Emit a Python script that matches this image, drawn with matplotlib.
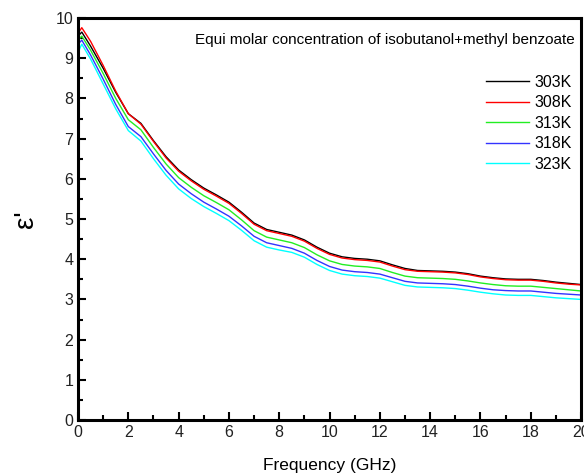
import matplotlib
matplotlib.use("Agg")
import matplotlib.pyplot as plt
from matplotlib.ticker import MultipleLocator

plt.rcParams['font.family'] = ['Liberation Sans', 'DejaVu Sans']

freq = [0, 0.15, 0.5, 1, 1.5, 2, 2.5, 3, 3.5, 4, 4.5, 5, 5.5, 6, 6.5, 7, 7.5, 8,
        8.5, 9, 9.5, 10, 10.5, 11, 11.5, 12, 12.5, 13, 13.5, 14, 14.5, 15,
        15.5, 16, 16.5, 17, 17.5, 18, 18.5, 19, 19.5, 20]

eps_303 = [9.55, 9.65, 9.30, 8.75, 8.15, 7.62, 7.38, 6.95, 6.55, 6.22, 5.98, 5.77,
           5.60, 5.42, 5.17, 4.90, 4.74, 4.67, 4.60, 4.48, 4.30, 4.15, 4.06, 4.02,
           4.00, 3.96, 3.86, 3.77, 3.72, 3.71, 3.70, 3.68, 3.64, 3.58, 3.54, 3.51,
           3.50, 3.50, 3.47, 3.43, 3.40, 3.37]
eps_308 = [9.62, 9.76, 9.42, 8.82, 8.18, 7.62, 7.36, 6.93, 6.52, 6.19, 5.95, 5.74,
           5.57, 5.39, 5.14, 4.87, 4.71, 4.64, 4.57, 4.45, 4.27, 4.12, 4.03, 3.99,
           3.97, 3.93, 3.83, 3.74, 3.70, 3.69, 3.68, 3.66, 3.62, 3.56, 3.52, 3.49,
           3.48, 3.48, 3.45, 3.41, 3.38, 3.36]
eps_313 = [9.45, 9.55, 9.20, 8.62, 8.00, 7.47, 7.22, 6.78, 6.37, 6.03, 5.79, 5.58,
           5.41, 5.23, 4.98, 4.71, 4.55, 4.48, 4.41, 4.29, 4.11, 3.96, 3.87, 3.83,
           3.81, 3.77, 3.67, 3.58, 3.54, 3.53, 3.52, 3.50, 3.46, 3.41, 3.37, 3.34,
           3.33, 3.33, 3.30, 3.27, 3.24, 3.21]
eps_318 = [9.35, 9.45, 9.08, 8.48, 7.85, 7.30, 7.05, 6.62, 6.21, 5.87, 5.63, 5.42,
           5.25, 5.07, 4.83, 4.57, 4.41, 4.34, 4.27, 4.15, 3.97, 3.82, 3.73, 3.69,
           3.67, 3.63, 3.54, 3.45, 3.41, 3.40, 3.39, 3.37, 3.33, 3.28, 3.24, 3.22,
           3.21, 3.21, 3.18, 3.15, 3.13, 3.11]
eps_323 = [9.15, 9.35, 8.98, 8.36, 7.74, 7.20, 6.94, 6.50, 6.09, 5.75, 5.51, 5.31,
           5.14, 4.96, 4.72, 4.46, 4.30, 4.23, 4.17, 4.05, 3.87, 3.72, 3.63, 3.59,
           3.57, 3.53, 3.44, 3.35, 3.31, 3.30, 3.29, 3.27, 3.23, 3.18, 3.14, 3.11,
           3.10, 3.10, 3.07, 3.04, 3.02, 3.00]

labels = ['303K', '308K', '313K', '318K', '323K']
colors = ['black', 'red', '#22ee22', '#3333ff', '#00ffff']
series = [eps_303, eps_308, eps_313, eps_318, eps_323]

fig = plt.figure(figsize=(5.84, 4.76), dpi=100)
ax = fig.add_axes([0.1336, 0.1176, 0.8614, 0.8445])

for s, c, lab in zip(series, colors, labels):
    ax.plot(freq, s, color=c, lw=1.0, label=lab)

ax.set_xlim(0, 20)
ax.set_ylim(0, 10)
ax.xaxis.set_major_locator(MultipleLocator(2))
ax.xaxis.set_minor_locator(MultipleLocator(1))
ax.yaxis.set_major_locator(MultipleLocator(1))
ax.yaxis.set_minor_locator(MultipleLocator(0.5))
ax.tick_params(which='both', direction='in', top=False, right=False,
               labelsize=11.5, labelcolor='#222222', width=1.5)
ax.tick_params(which='major', length=6)
ax.tick_params(which='minor', length=3.5)
for sp in ax.spines.values():
    sp.set_linewidth(2.2)

ax.set_xlabel('Frequency (GHz)', fontsize=12.5, labelpad=13)
ax.set_ylabel("ε'", fontsize=20, labelpad=12)

ax.text(0.988, 0.945, 'Equi molar concentration of isobutanol+methyl benzoate',
        transform=ax.transAxes, ha='right', va='center', fontsize=11)

ax.legend(loc='upper right', bbox_to_anchor=(0.995, 0.875), frameon=False,
          fontsize=11.5, handlelength=2.7, handletextpad=0.35, labelspacing=0.35,
          borderaxespad=0)

fig.savefig('out.png', dpi=100)
